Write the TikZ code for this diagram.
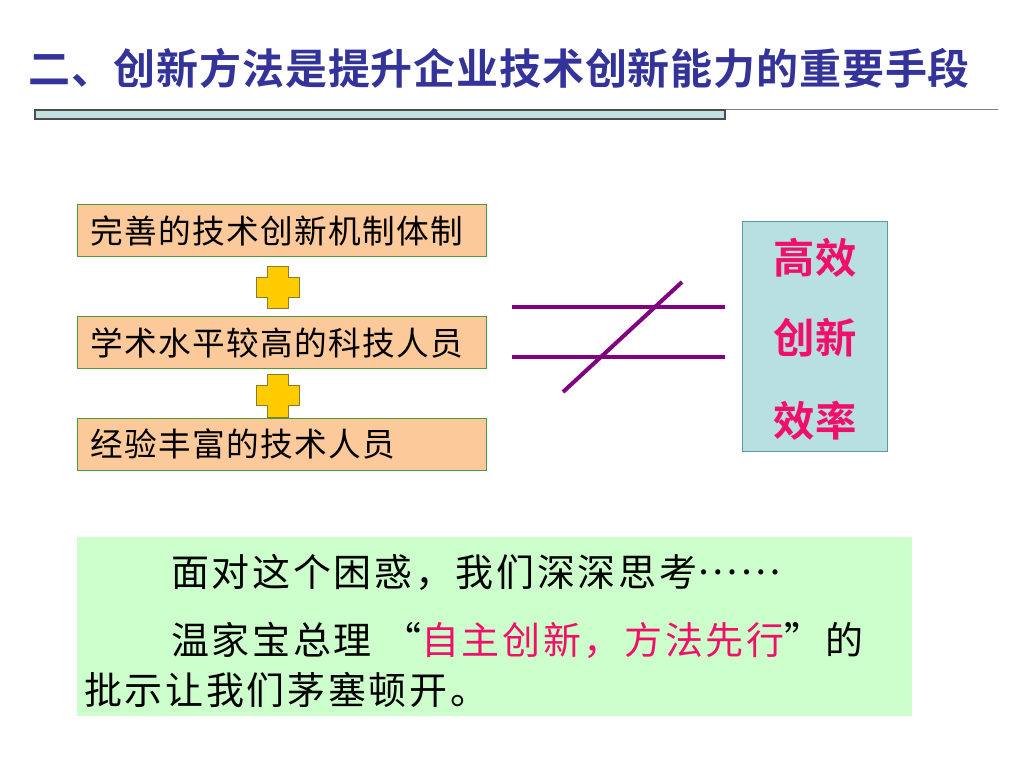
\documentclass[tikz,border=0pt]{standalone}
\usepackage{fontspec}
\newfontfamily\cjkbox[LetterSpace=4]{Noto Sans CJK SC}
\newfontfamily\cjkbody[LetterSpace=7]{Noto Sans CJK SC}
\newfontfamily\cjkb{Noto Sans CJK SC Bold}
\newfontfamily\cjktitle[LetterSpace=2]{Noto Sans CJK SC Bold}
\definecolor{titleblue}{HTML}{333399}
\definecolor{peach}{HTML}{FBC99A}
\definecolor{boxgreen}{HTML}{4E9A3A}
\definecolor{plusfill}{HTML}{FFCC00}
\definecolor{plusline}{HTML}{8C7A2A}
\definecolor{neqpurple}{HTML}{800080}
\definecolor{tealfill}{HTML}{B9E0E0}
\definecolor{tealline}{HTML}{5E9C9C}
\definecolor{pinkred}{HTML}{F0106A}
\definecolor{lightgreen}{HTML}{CCFFCC}
\definecolor{barfill}{HTML}{C2E0E0}
\begin{document}
\begin{tikzpicture}[x=0.75pt,y=-0.75pt,
  factbox/.style={draw=boxgreen,line width=0.9pt,fill=peach,minimum width=409*0.75pt,minimum height=52*0.75pt,anchor=north west,inner sep=0pt},
  facttext/.style={anchor=west,inner sep=0pt,font=\cjkbox\fontsize{24.5}{28}\selectfont},
  plusshape/.style={draw=plusline,line width=0.6pt,fill=plusfill},
  neq/.style={draw=neqpurple,line width=3pt},
  resulttext/.style={font=\cjkb\fontsize{31}{36}\selectfont,text=pinkred},
  bodytext/.style={anchor=west,font=\cjkbody\fontsize{28.5}{32}\selectfont,inner sep=0pt}]
\useasboundingbox (0,0) rectangle (1024,768);
\fill[white] (0,0) rectangle (1024,768);
% title
\node[anchor=west,inner sep=0pt,text=titleblue,font=\cjktitle\fontsize{31.5}{36}\selectfont] (title) at (28,68) {二、创新方法是提升企业技术创新能力的重要手段};
\draw[gray,line width=0.8pt] (725,109.5) -- (998,109.5);
\draw[draw=black!70,fill=barfill,line width=0.8pt] (35,110) rectangle (725,119);
% left boxes
\node[factbox] (b1) at (77,204) {};
\node[facttext] (t1) at (90,231) {完善的技术创新机制体制};
\node[factbox] (b2) at (77,316) {};
\node[facttext] (t2) at (90,343) {学术水平较高的科技人员};
\node[factbox] (b3) at (77,418) {};
\node[facttext] (t3) at (90,444) {经验丰富的技术人员};
% plus signs
\draw[plusshape] (267,266) -- (288,266) -- (288,277) -- (299,277) -- (299,297) -- (288,297) -- (288,308) -- (267,308) -- (267,297) -- (256,297) -- (256,277) -- (267,277) -- cycle;
\draw[plusshape] (267,374) -- (288,374) -- (288,385) -- (299,385) -- (299,405) -- (288,405) -- (288,417) -- (267,417) -- (267,405) -- (256,405) -- (256,385) -- (267,385) -- cycle;
% not equal sign
\coordinate (n1a) at (512,307);
\coordinate (n1b) at (725,307);
\coordinate (n2a) at (512,357);
\coordinate (n2b) at (725,357);
\coordinate (d1) at (563,392);
\coordinate (d2) at (682,282);
\draw[neq] (n1a) -- (n1b);
\draw[neq] (n2a) -- (n2b);
\draw[neq] (d1) -- (d2);
% result box
\node[draw=tealline,line width=0.9pt,fill=tealfill,anchor=north west,minimum width=145*0.75pt,minimum height=230*0.75pt,inner sep=0pt] (res) at (742,221) {};
\node[resulttext] (r1) at (815,258) {高效};
\node[resulttext] (r2) at (815,338) {创新};
\node[resulttext] (r3) at (815,421) {效率};
% bottom box
\node[fill=lightgreen,anchor=north west,minimum width=835*0.75pt,minimum height=179*0.75pt,inner sep=0pt] (bottom) at (77,537) {};
\node[bodytext] (l1) at (171,572) {面对这个困惑，我们深深思考\raisebox{0.3em}{……}};
\node[bodytext] (l2) at (171,640) {温家宝总理 “{\color{pinkred}自主创新，方法先行}”的};
\node[bodytext] (l3) at (84,690) {批示让我们茅塞顿开。};
\end{tikzpicture}
\end{document}
